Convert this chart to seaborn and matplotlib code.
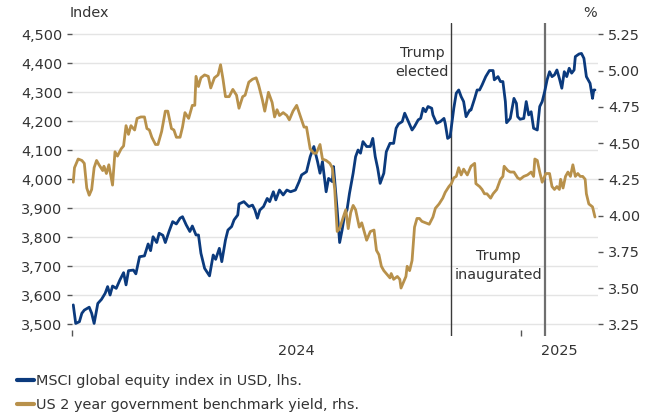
import matplotlib
matplotlib.use("Agg")
import matplotlib.pyplot as plt
from matplotlib.lines import Line2D
import pandas as pd
import seaborn as sns

# MSCI global equity index in USD (left axis)
msci_dates = [
    "2024-01-02", "2024-01-04", "2024-01-07", "2024-01-09", "2024-01-11", "2024-01-15",
    "2024-01-17", "2024-01-19", "2024-01-22", "2024-01-25", "2024-01-28", "2024-01-30",
    "2024-02-01", "2024-02-03", "2024-02-06", "2024-02-09", "2024-02-12", "2024-02-14",
    "2024-02-16", "2024-02-20", "2024-02-22", "2024-02-25", "2024-02-29", "2024-03-03",
    "2024-03-05", "2024-03-07", "2024-03-10", "2024-03-12", "2024-03-15", "2024-03-17",
    "2024-03-20", "2024-03-23", "2024-03-26", "2024-03-29", "2024-03-31", "2024-04-03",
    "2024-04-06", "2024-04-08", "2024-04-11", "2024-04-13", "2024-04-15", "2024-04-18",
    "2024-04-22", "2024-04-25", "2024-04-27", "2024-04-30", "2024-05-02", "2024-05-05",
    "2024-05-07", "2024-05-10", "2024-05-12", "2024-05-15", "2024-05-16", "2024-05-20",
    "2024-05-24", "2024-05-27", "2024-05-29", "2024-05-31", "2024-06-02", "2024-06-05",
    "2024-06-08", "2024-06-10", "2024-06-13", "2024-06-15", "2024-06-18", "2024-06-21",
    "2024-06-24", "2024-06-27", "2024-07-01", "2024-07-04", "2024-07-06", "2024-07-10",
    "2024-07-13", "2024-07-16", "2024-07-19", "2024-07-21", "2024-07-23", "2024-07-26",
    "2024-07-28", "2024-07-31", "2024-08-01", "2024-08-04", "2024-08-06", "2024-08-08",
    "2024-08-10", "2024-08-12", "2024-08-14", "2024-08-17", "2024-08-19", "2024-08-21",
    "2024-08-23", "2024-08-25", "2024-08-28", "2024-08-31", "2024-09-02", "2024-09-04",
    "2024-09-06", "2024-09-08", "2024-09-11", "2024-09-13", "2024-09-16", "2024-09-19",
    "2024-09-21", "2024-09-23", "2024-09-26", "2024-09-28", "2024-10-01", "2024-10-04",
    "2024-10-06", "2024-10-09", "2024-10-11", "2024-10-13", "2024-10-15", "2024-10-17",
    "2024-10-20", "2024-10-21", "2024-10-24", "2024-10-27", "2024-10-30", "2024-10-31",
    "2024-11-02", "2024-11-04", "2024-11-07", "2024-11-09", "2024-11-11", "2024-11-13",
    "2024-11-15", "2024-11-17", "2024-11-20", "2024-11-21", "2024-11-24", "2024-11-26",
    "2024-11-28", "2024-11-30", "2024-12-03", "2024-12-06", "2024-12-09", "2024-12-10",
    "2024-12-13", "2024-12-15", "2024-12-17", "2024-12-19", "2024-12-20", "2024-12-23",
    "2024-12-26", "2024-12-28", "2024-12-29", "2024-12-31", "2025-01-03", "2025-01-05",
    "2025-01-07", "2025-01-09", "2025-01-11", "2025-01-14", "2025-01-16", "2025-01-18",
    "2025-01-20", "2025-01-22", "2025-01-24", "2025-01-26", "2025-01-28", "2025-01-30",
    "2025-02-01", "2025-02-03", "2025-02-05", "2025-02-07", "2025-02-09", "2025-02-11",
    "2025-02-13", "2025-02-14", "2025-02-17", "2025-02-19", "2025-02-21", "2025-02-23",
    "2025-02-26", "2025-02-28", "2025-03-01", "2025-03-02",
]
msci_values = [
    3567, 3503, 3509, 3538, 3549, 3559,
    3538, 3503, 3572, 3586, 3607, 3630,
    3601, 3632, 3624, 3653, 3678, 3636,
    3685, 3687, 3674, 3733, 3736, 3777,
    3754, 3802, 3782, 3814, 3807, 3782,
    3820, 3854, 3846, 3866, 3871, 3843,
    3820, 3839, 3808, 3808, 3745, 3693,
    3667, 3739, 3724, 3762, 3716, 3791,
    3825, 3837, 3860, 3877, 3915, 3923,
    3906, 3911, 3894, 3866, 3894, 3906,
    3934, 3923, 3957, 3929, 3963, 3946,
    3963, 3957, 3963, 3992, 4015, 4026,
    4078, 4113, 4061, 4021, 4061, 3957,
    4003, 3992, 4044, 3894, 3782, 3825,
    3877, 3894, 3951, 4021, 4078, 4101,
    4090, 4130, 4113, 4113, 4141, 4078,
    4038, 3986, 4021, 4095, 4124, 4124,
    4176, 4191, 4199, 4228, 4199, 4170,
    4182, 4205, 4210, 4245, 4233, 4251,
    4245, 4222, 4193, 4199, 4210, 4193,
    4141, 4147, 4245, 4297, 4308, 4285,
    4268, 4216, 4239, 4239, 4279, 4308,
    4308, 4325, 4354, 4375, 4375, 4343,
    4354, 4337, 4337, 4268, 4195, 4210,
    4279, 4262, 4216, 4207, 4210, 4268,
    4222, 4233, 4176, 4170, 4251, 4268,
    4302, 4343, 4371, 4354, 4360, 4377,
    4348, 4314, 4371, 4354, 4383, 4366,
    4377, 4423, 4432, 4434, 4417, 4354,
    4331, 4279, 4308, 4308,
]

# US 2 year government benchmark yield, % (right axis)
yield_dates = [
    "2024-01-02", "2024-01-03", "2024-01-06", "2024-01-09", "2024-01-11", "2024-01-13",
    "2024-01-15", "2024-01-17", "2024-01-19", "2024-01-21", "2024-01-23", "2024-01-26",
    "2024-01-27", "2024-01-29", "2024-01-31", "2024-02-03", "2024-02-05", "2024-02-07",
    "2024-02-10", "2024-02-12", "2024-02-14", "2024-02-16", "2024-02-18", "2024-02-21",
    "2024-02-23", "2024-02-26", "2024-02-29", "2024-03-02", "2024-03-04", "2024-03-06",
    "2024-03-09", "2024-03-11", "2024-03-14", "2024-03-17", "2024-03-19", "2024-03-22",
    "2024-03-24", "2024-03-26", "2024-03-29", "2024-03-31", "2024-04-02", "2024-04-05",
    "2024-04-08", "2024-04-10", "2024-04-11", "2024-04-13", "2024-04-15", "2024-04-18",
    "2024-04-21", "2024-04-23", "2024-04-26", "2024-04-29", "2024-05-01", "2024-05-03",
    "2024-05-05", "2024-05-08", "2024-05-11", "2024-05-14", "2024-05-16", "2024-05-19",
    "2024-05-21", "2024-05-24", "2024-05-27", "2024-05-30", "2024-06-01", "2024-06-04",
    "2024-06-06", "2024-06-09", "2024-06-12", "2024-06-14", "2024-06-16", "2024-06-18",
    "2024-06-21", "2024-06-24", "2024-06-26", "2024-06-29", "2024-07-02", "2024-07-04",
    "2024-07-08", "2024-07-10", "2024-07-13", "2024-07-16", "2024-07-18", "2024-07-21",
    "2024-07-23", "2024-07-26", "2024-07-29", "2024-07-31", "2024-08-02", "2024-08-04",
    "2024-08-06", "2024-08-09", "2024-08-11", "2024-08-13", "2024-08-15", "2024-08-17",
    "2024-08-19", "2024-08-22", "2024-08-24", "2024-08-26", "2024-08-28", "2024-08-31",
    "2024-09-03", "2024-09-05", "2024-09-07", "2024-09-09", "2024-09-11", "2024-09-13",
    "2024-09-16", "2024-09-17", "2024-09-19", "2024-09-22", "2024-09-24", "2024-09-25",
    "2024-09-27", "2024-09-29", "2024-09-30", "2024-10-02", "2024-10-04", "2024-10-06",
    "2024-10-08", "2024-10-10", "2024-10-12", "2024-10-15", "2024-10-18", "2024-10-21",
    "2024-10-23", "2024-10-26", "2024-10-29", "2024-10-31", "2024-11-03", "2024-11-05",
    "2024-11-07", "2024-11-09", "2024-11-11", "2024-11-13", "2024-11-15", "2024-11-18",
    "2024-11-19", "2024-11-21", "2024-11-24", "2024-11-25", "2024-11-28", "2024-11-30",
    "2024-12-02", "2024-12-04", "2024-12-07", "2024-12-09", "2024-12-12", "2024-12-15",
    "2024-12-17", "2024-12-18", "2024-12-21", "2024-12-23", "2024-12-26", "2024-12-29",
    "2024-12-31", "2025-01-03", "2025-01-06", "2025-01-09", "2025-01-11", "2025-01-12",
    "2025-01-14", "2025-01-16", "2025-01-18", "2025-01-21", "2025-01-24", "2025-01-26",
    "2025-01-28", "2025-01-30", "2025-02-01", "2025-02-02", "2025-02-04", "2025-02-06",
    "2025-02-08", "2025-02-10", "2025-02-12", "2025-02-14", "2025-02-16", "2025-02-18",
    "2025-02-20", "2025-02-22", "2025-02-23", "2025-02-25", "2025-02-28", "2025-03-02",
]
yield_values = [
    4.23, 4.33, 4.39, 4.38, 4.36, 4.19,
    4.14, 4.18, 4.33, 4.38, 4.35, 4.31,
    4.34, 4.29, 4.35, 4.21, 4.44, 4.41,
    4.46, 4.48, 4.62, 4.56, 4.62, 4.59,
    4.67, 4.68, 4.68, 4.60, 4.59, 4.54,
    4.49, 4.49, 4.58, 4.72, 4.72, 4.60,
    4.59, 4.54, 4.54, 4.61, 4.71, 4.67,
    4.76, 4.76, 4.96, 4.89, 4.95, 4.97,
    4.96, 4.88, 4.95, 4.97, 5.04, 4.94,
    4.82, 4.82, 4.87, 4.83, 4.74, 4.82,
    4.83, 4.92, 4.94, 4.95, 4.90, 4.80,
    4.72, 4.85, 4.78, 4.68, 4.73, 4.69,
    4.71, 4.69, 4.66, 4.72, 4.76, 4.71,
    4.61, 4.61, 4.46, 4.43, 4.43, 4.49,
    4.39, 4.38, 4.36, 4.33, 4.18, 3.89,
    3.91, 3.99, 4.04, 3.91, 4.02, 4.07,
    4.04, 3.92, 3.95, 3.89, 3.83, 3.89,
    3.90, 3.76, 3.73, 3.65, 3.62, 3.60,
    3.57, 3.60, 3.56, 3.58, 3.56, 3.50,
    3.54, 3.58, 3.65, 3.62, 3.69, 3.92,
    3.98, 3.98, 3.96, 3.95, 3.94, 3.99,
    4.05, 4.08, 4.12, 4.16, 4.20, 4.22,
    4.26, 4.27, 4.33, 4.28, 4.32, 4.28,
    4.30, 4.34, 4.36, 4.22, 4.20, 4.18,
    4.15, 4.15, 4.12, 4.15, 4.18, 4.25,
    4.27, 4.34, 4.31, 4.30, 4.30, 4.26,
    4.25, 4.27, 4.28, 4.30, 4.27, 4.39,
    4.38, 4.30, 4.23, 4.29, 4.29, 4.20,
    4.18, 4.20, 4.18, 4.25, 4.19, 4.27,
    4.30, 4.27, 4.35, 4.27, 4.29, 4.27,
    4.27, 4.25, 4.15, 4.08, 4.06, 3.99,
]

# Event markers
event_dates = ["2024-11-05", "2025-01-20"]
event_labels = ["Trump\nelected", "Trump\ninaugurated"]

index_ticks = [3500, 3600, 3700, 3800, 3900, 4000, 4100, 4200, 4300, 4400, 4500]
yield_ticks = [3.25, 3.50, 3.75, 4.00, 4.25, 4.50, 4.75, 5.00, 5.25]
year_labels = ["2024", "2025"]

series_names = ["MSCI global equity index in USD, lhs.",
                "US 2 year government benchmark yield, rhs."]

NAVY = "#0b3a7d"
GOLD = "#b8914b"
TEXT = "#333333"
GRID = "#e4e4e4"
FS = 10.4

sns.set_theme(style="white")
plt.rcParams["font.family"] = ["DejaVu Sans"]
plt.rcParams["text.color"] = TEXT

msci = pd.DataFrame({"date": pd.to_datetime(msci_dates), "value": msci_values})
yld = pd.DataFrame({"date": pd.to_datetime(yield_dates), "value": yield_values})

fig = plt.figure(figsize=(6.59, 4.16), dpi=100)
ax = fig.add_axes([0.1093, 0.1923, 0.7982, 0.7517])
ax2 = ax.twinx()

sns.lineplot(data=msci, x="date", y="value", ax=ax, color=NAVY, linewidth=2.0)
sns.lineplot(data=yld, x="date", y="value", ax=ax2, color=GOLD, linewidth=2.0)

x_start = pd.Timestamp("2024-01-01")
x_end = pd.Timestamp("2025-03-04 12:00")
ax.set_xlim(x_start, x_end)
ax.set_ylim(3459.7, 4537.9)
ax2.set_ylim(3.1693, 5.3259)

# Horizontal grid on the index scale
ax.set_yticks(index_ticks)
ax.set_yticklabels([f"{v:,}" for v in index_ticks])
ax.grid(axis="y", color=GRID, linewidth=1.0)
ax.grid(axis="x", visible=False)
ax.set_axisbelow(True)

ax2.set_yticks(yield_ticks)
ax2.set_yticklabels([f"{v:.2f}" for v in yield_ticks])
ax2.grid(False)

for a in (ax, ax2):
    for s in a.spines.values():
        s.set_visible(False)
    a.set_xlabel("")
    a.set_ylabel("")

ax.tick_params(axis="y", which="major", left=True, length=3.6, width=1.0,
               color="#555555", labelsize=FS, labelcolor=TEXT, pad=3.5)
ax2.tick_params(axis="y", which="major", right=True, length=3.6, width=1.0,
                color="#555555", labelsize=FS, labelcolor=TEXT, pad=3.5)

# Year boundaries as small ticks, year names centred in the visible span
year_starts = [pd.Timestamp("2024-01-01"), pd.Timestamp("2025-01-01")]
ax.set_xticks(year_starts)
ax.set_xticklabels(["", ""])
ax.tick_params(axis="x", which="major", bottom=True, direction="in",
               length=4.5, width=1.0, color="#555555")
year_mids = []
for i, start in enumerate(year_starts):
    end = year_starts[i + 1] if i + 1 < len(year_starts) else x_end
    year_mids.append(start + (end - start) / 2)
ax.set_xticks(year_mids, minor=True)
ax.set_xticklabels(year_labels, minor=True)
ax.tick_params(axis="x", which="minor", bottom=True, length=0, labelsize=FS,
               labelcolor=TEXT, pad=6)

# Event lines and their captions
ev = pd.to_datetime(event_dates)
ax.axvline(ev[0], color="#3a3a3a", linewidth=1.0, zorder=1)
ax.axvline(ev[1], color="#6f6f6f", linewidth=1.6, zorder=1)
ax.text(ev[0] - pd.Timedelta(days=24), 4458, event_labels[0], ha="center", va="top",
        fontsize=FS, color=TEXT, linespacing=1.45, multialignment="center")
ax.text(ev[0] + (ev[1] - ev[0]) / 2, 3758, event_labels[1], ha="center", va="top",
        fontsize=FS, color=TEXT, linespacing=1.45, multialignment="center")

# Axis unit captions
fig.text(70 / 659, 1 - 13 / 416, "Index", ha="left", va="center", fontsize=FS, color=TEXT)
fig.text(597 / 659, 1 - 13 / 416, "%", ha="right", va="center", fontsize=FS, color=TEXT)

handles = [Line2D([], [], color=NAVY, linewidth=3),
           Line2D([], [], color=GOLD, linewidth=3)]
fig.legend(handles, series_names, loc="upper left", bbox_to_anchor=(17 / 659, 0.1016),
           frameon=False, fontsize=FS, handlelength=1.15, handletextpad=0.2,
           labelspacing=0.74, borderaxespad=0, borderpad=0, labelcolor=TEXT)

fig.savefig("out.png", dpi=100)
